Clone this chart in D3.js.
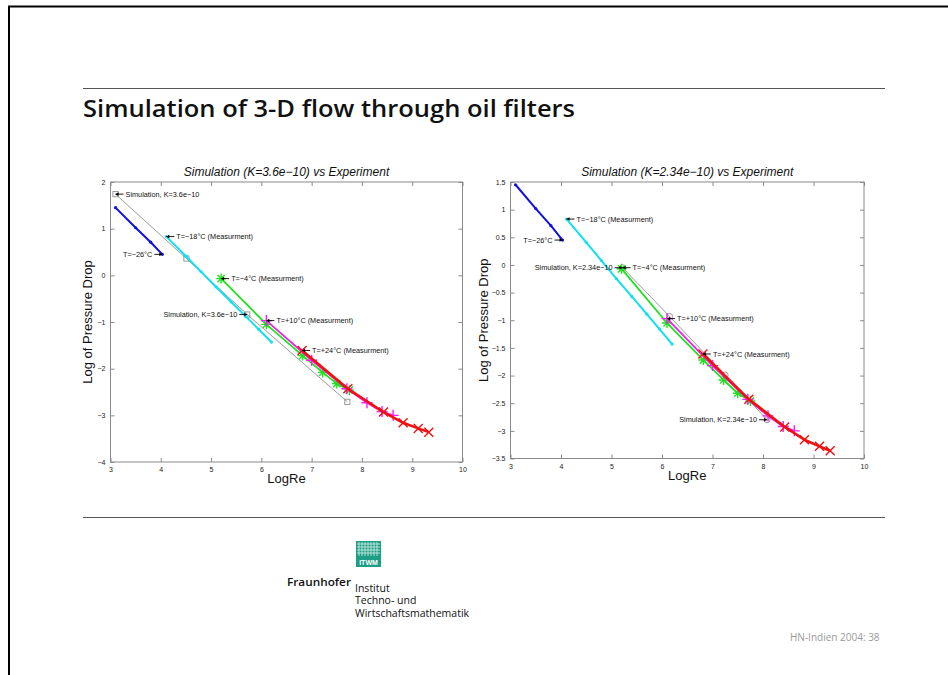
<!DOCTYPE html>
<html>
<head>
<meta charset="utf-8">
<script src="https://cdn.jsdelivr.net/npm/d3@7"></script>
<style>
  html, body { margin: 0; padding: 0; background: #fff; }
  svg { display: block; }
</style>
</head>
<body>
<svg id="slide" width="948" height="675"></svg>
<script>
// ---- data ----
const xTicks = [3, 4, 5, 6, 7, 8, 9, 10];
const yTicksA = [-4, -3, -2, -1, 0, 1, 2];
const yTicksB = [-3.5, -3, -2.5, -2, -1.5, -1, -0.5, 0, 0.5, 1, 1.5];

// measured log pressure drop vs log Re at different oil temperatures
const tempM26 = [[3.10, 1.45], [3.50, 1.02], [3.80, 0.71], [4.03, 0.45]];
const tempM18 = [[4.11, 0.83], [4.50, 0.41], [4.80, 0.08], [5.10, -0.25], [5.40, -0.57],
                 [5.70, -0.89], [5.95, -1.16], [6.20, -1.43]];
const tempM4  = [[5.20, -0.07], [6.10, -1.05], [6.82, -1.72], [7.22, -2.08], [7.50, -2.32], [7.75, -2.46]];
const tempP10 = [[6.10, -0.97], [7.00, -1.82], [7.70, -2.43], [8.10, -2.73], [8.40, -2.92], [8.62, -3.00]];
const tempP24 = [[6.81, -1.61], [7.72, -2.43], [8.43, -2.93], [8.82, -3.16], [9.12, -3.28], [9.33, -3.36]];

// simulated curves for the two permeabilities
const simK36  = [[3.10, 1.74], [4.51, 0.36], [5.72, -0.84], [7.71, -2.71]];
const simK234 = [[5.22, -0.05], [6.15, -0.93], [7.25, -1.99], [8.08, -2.80]];

const titles = ["Simulation (K=3.6e\u221210) vs Experiment", "Simulation (K=2.34e\u221210) vs Experiment"];

// annotations: [label, x, y, side] side "r" = text right of point, "l" = text left of point
const notesA = [
  ["Simulation, K=3.6e\u221210", 3.10, 1.74, "r"],
  ["T=\u221218\u00b0C (Measurment)", 4.11, 0.83, "r"],
  ["T=\u221226\u00b0C", 4.03, 0.45, "l"],
  ["T=\u22124\u00b0C  (Measurment)", 5.20, -0.07, "r"],
  ["Simulation, K=3.6e\u221210", 5.72, -0.84, "l"],
  ["T=+10\u00b0C (Measurment)", 6.10, -0.97, "r"],
  ["T=+24\u00b0C (Measurment)", 6.81, -1.61, "r"]
];
const notesB = [
  ["T=\u221226\u00b0C", 4.03, 0.45, "l"],
  ["T=\u221218\u00b0C (Measurment)", 4.11, 0.83, "r"],
  ["Simulation, K=2.34e\u221210", 5.22, -0.05, "l"],
  ["T=\u22124\u00b0C  (Measurment)", 5.22, -0.05, "r"],
  ["T=+10\u00b0C (Measurment)", 6.10, -0.97, "r"],
  ["T=+24\u00b0C (Measurment)", 6.81, -1.61, "r"],
  ["Simulation, K=2.34e\u221210", 8.08, -2.80, "l"]
];

// ---- drawing ----
const svg = d3.select("#slide");
const FONT = "'Liberation Sans', Arial, Helvetica, sans-serif";

// slide frame
svg.append("line").attr("x1", 8).attr("x2", 948).attr("y1", 6.5).attr("y2", 6.5)
  .attr("stroke", "#000").attr("stroke-width", 2);
svg.append("line").attr("x1", 9).attr("x2", 9).attr("y1", 6).attr("y2", 675)
  .attr("stroke", "#000").attr("stroke-width", 2);

// rules and heading
[88.5, 517.5].forEach(y => svg.append("line").attr("x1", 83).attr("x2", 885)
  .attr("y1", y).attr("y2", y).attr("stroke", "#555").attr("stroke-width", 1));
svg.append("text").attr("x", 83).attr("y", 117)
  .attr("font-family", "'Open Sans', 'Noto Sans', sans-serif").attr("font-weight", 600)
  .attr("font-size", 23).attr("fill", "#111")
  .attr("textLength", 492).attr("lengthAdjust", "spacingAndGlyphs")
  .text("Simulation of 3-D flow through oil filters");

const fmt = v => (v < 0 ? "\u2212" : "") + Math.abs(v);

function markerPath(kind, r) {
  const p = d3.path();
  if (kind === "plus" || kind === "star") {
    p.moveTo(-r, 0); p.lineTo(r, 0); p.moveTo(0, -r); p.lineTo(0, r);
  }
  if (kind === "x" || kind === "star") {
    const d = kind === "star" ? r * 0.72 : r;
    p.moveTo(-d, -d); p.lineTo(d, d); p.moveTo(-d, d); p.lineTo(d, -d);
  }
  return p.toString();
}

function panel(cfg) {
  const g = svg.append("g");
  const x = d3.scaleLinear().domain([3, 10]).range([cfg.x0, cfg.x1]);
  const y = d3.scaleLinear().domain(cfg.yDomain).range([cfg.y1, cfg.y0]);
  const W = cfg.x1 - cfg.x0, H = cfg.y1 - cfg.y0;

  // axes box with inward ticks on all sides
  const axCol = "#8a8a8a";
  g.append("rect").attr("x", cfg.x0).attr("y", cfg.y0).attr("width", W).attr("height", H)
    .attr("fill", "none").attr("stroke", axCol).attr("stroke-width", 1);
  const ax = [
    d3.axisBottom(x).tickValues(xTicks).tickSize(-4).tickFormat(fmt),
    d3.axisTop(x).tickValues(xTicks).tickSize(-4).tickFormat(""),
    d3.axisLeft(y).tickValues(cfg.yTicks).tickSize(-4).tickFormat(fmt),
    d3.axisRight(y).tickValues(cfg.yTicks).tickSize(-4).tickFormat("")
  ];
  const pos = [[0, cfg.y1], [0, cfg.y0], [cfg.x0, 0], [cfg.x1, 0]];
  ax.forEach((a, i) => {
    const ag = g.append("g").attr("transform", `translate(${pos[i][0]},${pos[i][1]})`).call(a);
    ag.select(".domain").remove();
    ag.selectAll(".tick line").attr("stroke", axCol);
    ag.selectAll(".tick text").attr("font-family", FONT).attr("font-size", 7).attr("fill", "#222");
    if (i === 0) ag.selectAll(".tick text").attr("dy", "0.9em").attr("y", 4);
    if (i === 2) ag.selectAll(".tick text").attr("x", -5);
  });

  // titles
  const cx = (cfg.x0 + cfg.x1) / 2;
  g.append("text").attr("x", cx).attr("y", cfg.y0 - 6).attr("text-anchor", "middle")
    .attr("font-family", FONT).attr("font-style", "italic").attr("font-size", 12).attr("fill", "#111")
    .text(cfg.title);
  g.append("text").attr("x", cx).attr("y", cfg.y1 + 21).attr("text-anchor", "middle")
    .attr("font-family", FONT).attr("font-size", 13).attr("fill", "#111").text("LogRe");
  g.append("text").attr("transform", `translate(${cfg.x0 - cfg.yLabelGap},${(cfg.y0 + cfg.y1) / 2}) rotate(-90)`)
    .attr("text-anchor", "middle").attr("font-family", FONT).attr("font-size", 13).attr("fill", "#111")
    .text("Log of Pressure Drop");

  const line = d3.line().x(d => x(d[0])).y(d => y(d[1]));
  const series = [
    { data: cfg.sim, color: "#909090", w: 0.9, marker: cfg.simMarker, r: 2.6 },
    { data: tempM26, color: "#1010e0", w: 2, marker: "dot", r: 1.6 },
    { data: tempM18, color: "#10e0f0", w: 2, marker: "dot", r: 1.6 },
    { data: tempM4,  color: "#20e020", w: 1.8, marker: "star", r: 5 },
    { data: tempP10, color: "#f020f0", w: 1.8, marker: "plus", r: 5.5 },
    { data: tempP24, color: "#f01010", w: 2.6, marker: "x", r: 4.5 }
  ];
  series.forEach(s => {
    g.append("path").datum(s.data).attr("d", line).attr("fill", "none")
      .attr("stroke", s.color).attr("stroke-width", s.w).attr("stroke-linejoin", "round");
    const m = g.append("g").selectAll("g").data(s.data).join("g")
      .attr("transform", d => `translate(${x(d[0])},${y(d[1])})`);
    if (s.marker === "dot") {
      m.append("circle").attr("r", s.r).attr("fill", s.color);
    } else if (s.marker === "square") {
      m.append("rect").attr("x", -s.r).attr("y", -s.r).attr("width", 2 * s.r).attr("height", 2 * s.r)
        .attr("fill", "none").attr("stroke", s.color).attr("stroke-width", 0.9);
    } else if (s.marker === "circle") {
      m.append("circle").attr("r", s.r + 0.4).attr("fill", "none").attr("stroke", s.color).attr("stroke-width", 0.9);
    } else {
      m.append("path").attr("d", markerPath(s.marker, s.r)).attr("fill", "none")
        .attr("stroke", s.color).attr("stroke-width", 1.4);
    }
  });

  // annotations with arrows pointing at the data
  cfg.notes.forEach(([label, vx, vy, side]) => {
    const px = x(vx), py = y(vy);
    const dir = side === "r" ? 1 : -1;
    g.append("line").attr("x1", px).attr("x2", px + dir * 8).attr("y1", py).attr("y2", py)
      .attr("stroke", "#000").attr("stroke-width", 0.9);
    g.append("path").attr("d", `M${px},${py}l${dir * 3},-1.8l0,3.6z`).attr("fill", "#000");
    g.append("text").attr("x", px + dir * 10).attr("y", py).attr("dy", "0.35em")
      .attr("text-anchor", side === "r" ? "start" : "end")
      .attr("font-family", FONT).attr("font-size", 7.3).attr("fill", "#111").text(label);
  });
}

panel({ x0: 110.5, x1: 462.5, y0: 182, y1: 462, yDomain: [-4, 2], yTicks: yTicksA, yLabelGap: 19,
        title: titles[0], sim: simK36, simMarker: "square", notes: notesA });
panel({ x0: 510.5, x1: 864, y0: 182, y1: 458.5, yDomain: [-3.5, 1.5], yTicks: yTicksB, yLabelGap: 23,
        title: titles[1], sim: simK234, simMarker: "circle", notes: notesB });

// institute logo
const logo = svg.append("g").attr("transform", "translate(356,541)");
logo.append("rect").attr("width", 25).attr("height", 26).attr("fill", "#1f9e86");
const gridX = [3, 6, 9, 12, 15, 18, 21];
const gridY = [3, 6, 9, 12];
gridX.forEach(v => logo.append("line").attr("x1", v).attr("x2", v).attr("y1", 1).attr("y2", 15)
  .attr("stroke", "#d5f0e8").attr("stroke-width", 0.8));
gridY.forEach(v => logo.append("line").attr("x1", 1).attr("x2", 24).attr("y1", v).attr("y2", v)
  .attr("stroke", "#d5f0e8").attr("stroke-width", 0.8));
logo.append("text").attr("x", 12.5).attr("y", 23.5).attr("text-anchor", "middle")
  .attr("font-family", FONT).attr("font-weight", "bold").attr("font-size", 7).attr("fill", "#fff").text("ITWM");

svg.append("text").attr("x", 287).attr("y", 586).attr("font-family", "'Open Sans', sans-serif")
  .attr("font-weight", 600).attr("font-size", 11.5).attr("fill", "#111")
  .attr("textLength", 64).attr("lengthAdjust", "spacingAndGlyphs").text("Fraunhofer");
["Institut", "Techno- und", "Wirtschaftsmathematik"].forEach((t, i) =>
  svg.append("text").attr("x", 355).attr("y", 592 + i * 12.3).attr("font-family", "'Open Sans', sans-serif")
    .attr("font-size", 10.5).attr("fill", "#111").text(t));

svg.append("text").attr("x", 790).attr("y", 641).attr("font-family", "'Open Sans', sans-serif")
  .attr("font-size", 10).attr("fill", "#999").text("HN-Indien 2004: 38");
</script>
</body>
</html>
